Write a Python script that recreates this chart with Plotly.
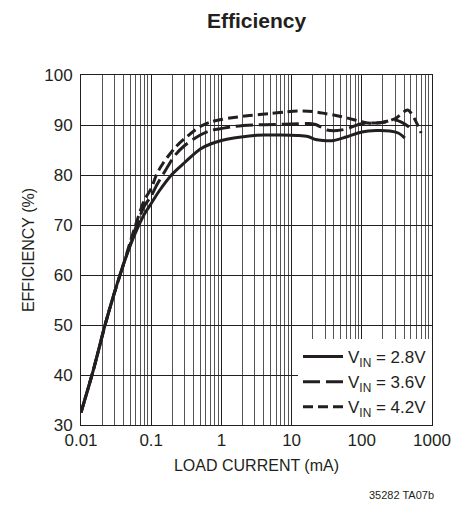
import plotly.graph_objects as go

# Load current (mA) and efficiency (%) per input voltage
x_28 = [0.01, 0.015, 0.022, 0.03, 0.04, 0.05, 0.065, 0.08, 0.1, 0.13, 0.2, 0.3, 0.5, 0.7,
        1, 1.5, 2.5, 4, 7, 12, 17, 22, 28, 40, 60, 100, 160, 250, 330, 410]
y_28 = [32.5, 41, 50, 56.5, 62, 65.8, 69.6, 72.2, 74.3, 76.8, 80.2, 82.5, 85.2, 86.2,
        86.9, 87.4, 87.8, 88.0, 88.0, 87.9, 87.7, 87.1, 86.9, 86.9, 87.6, 88.6, 88.9, 88.8, 88.4, 87.4]

x_36 = [0.01, 0.015, 0.022, 0.03, 0.04, 0.05, 0.065, 0.08, 0.1, 0.12, 0.15, 0.22, 0.3, 0.5, 0.7,
        1, 1.5, 3, 6, 10, 18, 22, 27, 32, 45, 60, 95, 190, 300, 450, 540]
y_36 = [32.5, 41, 50, 56.5, 62, 66, 70.8, 73.8, 75.8, 78, 80.3, 84, 85.9, 88, 88.9,
        89.3, 89.7, 90.0, 90.1, 90.2, 90.3, 90.1, 89.5, 89.0, 88.9, 89.2, 90.2, 90.5, 91.0, 89.8, 88.7]

x_42 = [0.01, 0.015, 0.022, 0.03, 0.04, 0.05, 0.065, 0.08, 0.1, 0.12, 0.15, 0.22, 0.3, 0.5, 0.7,
        1, 1.5, 2.5, 5, 8, 12, 20, 30, 50, 80, 120, 200, 300, 450, 560, 700]
y_42 = [32.5, 41, 50, 56.5, 62, 66.5, 71.5, 75, 77.3, 80.2, 82.5, 85.5, 87.3, 89.7, 90.6,
        91.1, 91.5, 91.9, 92.3, 92.6, 92.8, 92.7, 92.3, 91.7, 91.0, 90.4, 90.5, 91.3, 93.0, 91.3, 88.4]

series_names = ["V<sub>IN</sub> = 2.8V", "V<sub>IN</sub> = 3.6V", "V<sub>IN</sub> = 4.2V"]
dashes = ["solid", "17px,6px", "10px,5px"]

x_tickvals = [0.01, 0.1, 1, 10, 100, 1000]
x_ticktext = ["0.01", "0.1", "1", "10", "100", "1000"]
y_tickvals = [30, 40, 50, 60, 70, 80, 90, 100]

decades = [0.01, 0.1, 1, 10, 100]
minor_vals = [d * m for d in decades for m in range(2, 10)]

FONT = "Liberation Sans, Arial, sans-serif"
INK = "#231f20"

fig = go.Figure()
for xs, ys, name, dash in zip([x_28, x_36, x_42], [y_28, y_36, y_42], series_names, dashes):
    fig.add_trace(go.Scatter(
        x=xs, y=ys, mode="lines", name=name,
        line=dict(color=INK, width=3, dash=dash, shape="spline", smoothing=0.8),
    ))

fig.update_layout(
    width=458, height=510,
    margin=dict(l=81, r=26, t=75, b=85, autoexpand=False),
    paper_bgcolor="white", plot_bgcolor="white",
    title=dict(text="<b>Efficiency</b>", x=0.5, xref="paper", y=1 - 21 / 510, yanchor="middle",
               font=dict(family=FONT, size=21, color=INK)),
    font=dict(family=FONT, color=INK),
    showlegend=True,
    legend=dict(x=1, y=0, xanchor="right", yanchor="bottom", bgcolor="white",
                font=dict(family=FONT, size=17, color=INK),
                borderwidth=0, tracegroupgap=0, itemwidth=40),
    annotations=[dict(text="35282 TA07b", xref="paper", yref="paper", x=1.01, y=-0.2,
                      xanchor="right", yanchor="middle", showarrow=False,
                      font=dict(family=FONT, size=11, color=INK))],
)

fig.update_xaxes(
    type="log", range=[-2, 3], automargin=False, ticklabeloverflow="allow",
    tickmode="array", tickvals=x_tickvals, ticktext=x_ticktext,
    tickfont=dict(size=17), ticks="", ticklen=0,
    title=dict(text="LOAD CURRENT (mA)", font=dict(size=16), standoff=10),
    showline=True, mirror=True, linecolor=INK, linewidth=1,
    showgrid=True, gridcolor=INK, gridwidth=1,
    minor=dict(tickmode="array", tickvals=minor_vals, showgrid=True, gridcolor="#555555", gridwidth=1, ticks=""),
    zeroline=False,
)
fig.update_yaxes(
    range=[30, 100], automargin=False, ticklabeloverflow="allow",
    tickmode="array", tickvals=y_tickvals, ticklabelstandoff=4,
    tickfont=dict(size=17), ticks="",
    title=dict(text="EFFICIENCY (%)", font=dict(size=16), standoff=5),
    showline=True, mirror=True, linecolor=INK, linewidth=1,
    showgrid=True, gridcolor=INK, gridwidth=1,
    zeroline=False,
)

fig.write_html("out.html", config={"displayModeBar": False},
               post_script="document.body.style.margin='0';")
